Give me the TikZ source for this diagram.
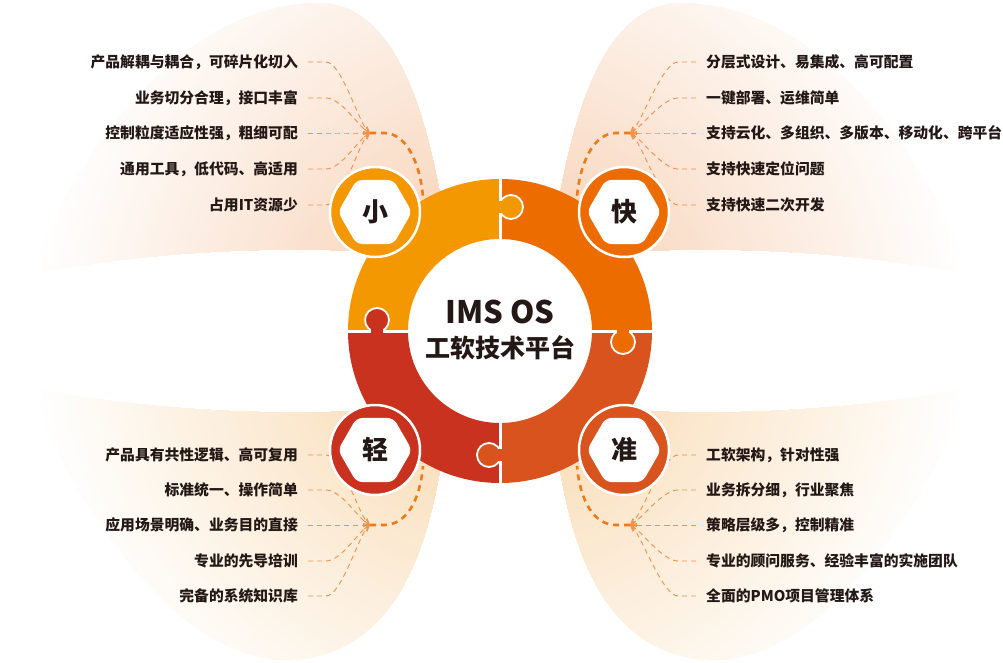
\documentclass[tikz,border=0pt]{standalone}
\usepackage{fontspec}
\setmainfont{Noto Sans CJK SC}
\usetikzlibrary{arrows.meta,shapes.geometric}

\definecolor{cXiao}{HTML}{F39800}
\definecolor{cKuai}{HTML}{EC6C00}
\definecolor{cZhun}{HTML}{D9531E}
\definecolor{cQing}{HTML}{C9321F}
\definecolor{ink}{HTML}{231815}
\definecolor{linkC}{HTML}{F29048}
\definecolor{hubC}{HTML}{EE7A1A}
\definecolor{fanTop}{RGB}{249,218,195}
\definecolor{fanBot}{RGB}{250,225,192}

\tikzset{
  lbl/.style={font=\bfseries\fontsize{14.8pt}{16pt}\selectfont, text=ink, inner sep=0pt},
  thinlink/.style={linkC, line width=0.9pt, dash pattern=on 5pt off 4pt,
    -{Straight Barb[length=5pt,width=8pt]}},
  hublink/.style={hubC, line width=2.6pt, dash pattern=on 6pt off 5pt},
  badge/.style={circle, minimum size=90pt, inner sep=0pt, draw=white, line width=2.5pt},
  hexbox/.style={regular polygon, regular polygon sides=6, minimum size=74pt,
    inner sep=0pt, fill=white, rounded corners=6pt, text=ink,
    font=\bfseries\fontsize{26pt}{28pt}\selectfont},
  gap/.style={white, line width=3pt},
}

\begin{document}
\begin{tikzpicture}[x=1pt, y=-1pt]

  \useasboundingbox (0,0) rectangle (1003,662);
  \clip (0,0) rectangle (1003,662);

  % 背景扇叶 (上)
  \begin{scope}
    \clip (445,258) .. controls (330,244) and (170,246) .. (28,275)
      .. controls (70,170) and (170,5) .. (320,3)
      .. controls (395,5) and (425,110) .. (442,205) -- cycle
      (555,258) .. controls (670,244) and (830,246) .. (972,275)
      .. controls (930,170) and (830,5) .. (680,3)
      .. controls (605,5) and (575,110) .. (558,205) -- cycle;
    \foreach \r in {470,465,...,140} {
      \pgfmathsetmacro\p{min(100,(470-\r)/3.2)}
      \fill[fanTop!\p!white] (500,331) circle[radius=\r pt];
    }
  \end{scope}
  % 背景扇叶 (下)
  \begin{scope}
    \clip (445,404) .. controls (330,418) and (170,416) .. (28,387)
      .. controls (70,492) and (170,662) .. (290,660)
      .. controls (385,655) and (425,570) .. (442,457) -- cycle
      (555,404) .. controls (670,418) and (830,416) .. (972,387)
      .. controls (930,492) and (830,662) .. (710,660)
      .. controls (615,655) and (575,570) .. (558,457) -- cycle;
    \foreach \r in {470,465,...,140} {
      \pgfmathsetmacro\p{min(100,(470-\r)/3.2)}
      \fill[fanBot!\p!white] (500,331) circle[radius=\r pt];
    }
  \end{scope}

  % 汇聚点
  \coordinate (xiaohub) at (370,133);
  \coordinate (kuaihub) at (630,133);
  \coordinate (qinghub) at (370,525);
  \coordinate (zhunhub) at (630,525);
  \coordinate (xiaoend) at (423,197);
  \coordinate (kuaiend) at (577,197);
  \coordinate (qingend) at (423,466);
  \coordinate (zhunend) at (577,466);

  % 文字条目
  \foreach \txt/\y [count=\i] in {产品解耦与耦合，可碎片化切入/62, 业务切分合理，接口丰富/98,
      控制粒度适应性强，粗细可配/133, 通用工具，低代码、高适用/169, 占用IT资源少/205}
    \node[lbl, anchor=east] (xiao\i) at (298,\y) {\txt};
  \foreach \txt/\y [count=\i] in {分层式设计、易集成、高可配置/62, 一键部署、运维简单/98,
      支持云化、多组织、多版本、移动化、跨平台/133, 支持快速定位问题/169, 支持快速二次开发/205}
    \node[lbl, anchor=west] (kuai\i) at (706,\y) {\txt};
  \foreach \txt/\y [count=\i] in {产品具有共性逻辑、高可复用/455, 标准统一、操作简单/490,
      应用场景明确、业务目的直接/525, 专业的先导培训/561, 完备的系统知识库/596}
    \node[lbl, anchor=east] (qing\i) at (298,\y) {\txt};
  \foreach \txt/\y [count=\i] in {工软架构，针对性强/455, 业务拆分细，行业聚焦/490,
      策略层级多，控制精准/525, 专业的顾问服务、经验丰富的实施团队/561, 全面的PMO项目管理体系/596}
    \node[lbl, anchor=west] (zhun\i) at (706,\y) {\txt};

  % 细虚线
  \foreach \i/\c in {1/-6,2/-4,3/0,4/4,5/6} {
    \draw[thinlink] ([xshift=10pt]xiao\i.east) -- ++(18,0) .. controls +(16,0) and +(-10,\c) .. (xiaohub);
    \draw[thinlink] ([xshift=10pt]qing\i.east) -- ++(18,0) .. controls +(16,0) and +(-10,\c) .. (qinghub);
    \draw[thinlink] ([xshift=-10pt]kuai\i.west) -- ++(-18,0) .. controls +(-16,0) and +(10,\c) .. (kuaihub);
    \draw[thinlink] ([xshift=-10pt]zhun\i.west) -- ++(-18,0) .. controls +(-16,0) and +(10,\c) .. (zhunhub);
  }

  % 粗虚线
  \draw[hublink] (xiaohub) -- ++(14,0) .. controls +(22,0) and +(-3,-35) .. (xiaoend);
  \draw[hublink] (kuaihub) -- ++(-14,0) .. controls +(-22,0) and +(3,-35) .. (kuaiend);
  \draw[hublink] (qinghub) -- ++(14,0) .. controls +(22,0) and +(-3,35) .. (qingend);
  \draw[hublink] (zhunhub) -- ++(-14,0) .. controls +(-22,0) and +(3,35) .. (zhunend);

  % 圆环四块
  \begin{scope}[shift={(500,331)}]
    \fill[cXiao] (180:152) arc[start angle=180, end angle=270, radius=152]
      -- (270:92) arc[start angle=270, end angle=180, radius=92] -- cycle;
    \fill[cKuai] (270:152) arc[start angle=270, end angle=360, radius=152]
      -- (0:92) arc[start angle=360, end angle=270, radius=92] -- cycle;
    \fill[cZhun] (0:152) arc[start angle=0, end angle=90, radius=152]
      -- (90:92) arc[start angle=90, end angle=0, radius=92] -- cycle;
    \fill[cQing] (90:152) arc[start angle=90, end angle=180, radius=152]
      -- (180:92) arc[start angle=180, end angle=90, radius=92] -- cycle;
  \end{scope}
  \draw[gap] (500,178) -- (500,484);
  \draw[gap] (347,331) -- (653,331);

  % 拼图凸块
  \foreach \col/\cx/\cy/\ax/\ay/\bx/\by in {cXiao/511/207/494/201/503/213,
      cKuai/623/342/617/326/629/336, cZhun/489/455/497/449/506/461,
      cQing/377/320/371/326/383/336} {
    \fill[\col] (\cx,\cy) circle[radius=12pt];
    \draw[white, line width=1.8pt] (\cx,\cy) circle[radius=12pt];
    \fill[\col] (\ax,\ay) rectangle (\bx,\by);
  }

  % 六边形徽章
  \node[badge, fill=cXiao] (xiaoring) at (375,212) {};
  \node[badge, fill=cKuai] (kuairing) at (624,212) {};
  \node[badge, fill=cQing] (qingring) at (375,450) {};
  \node[badge, fill=cZhun] (zhunring) at (624,450) {};
  \node[hexbox] (xiaohex) at (xiaoring) {小};
  \node[hexbox] (kuaihex) at (kuairing) {快};
  \node[hexbox] (qinghex) at (qingring) {轻};
  \node[hexbox] (zhunhex) at (zhunring) {准};

  % 中心标题
  \node[text=ink, font=\bfseries\fontsize{31pt}{33pt}\selectfont] (ims) at (500,312) {IMS OS};
  \node[text=ink, font=\bfseries\fontsize{25pt}{27pt}\selectfont] (plat) at (500,348) {工软技术平台};

\end{tikzpicture}
\end{document}
